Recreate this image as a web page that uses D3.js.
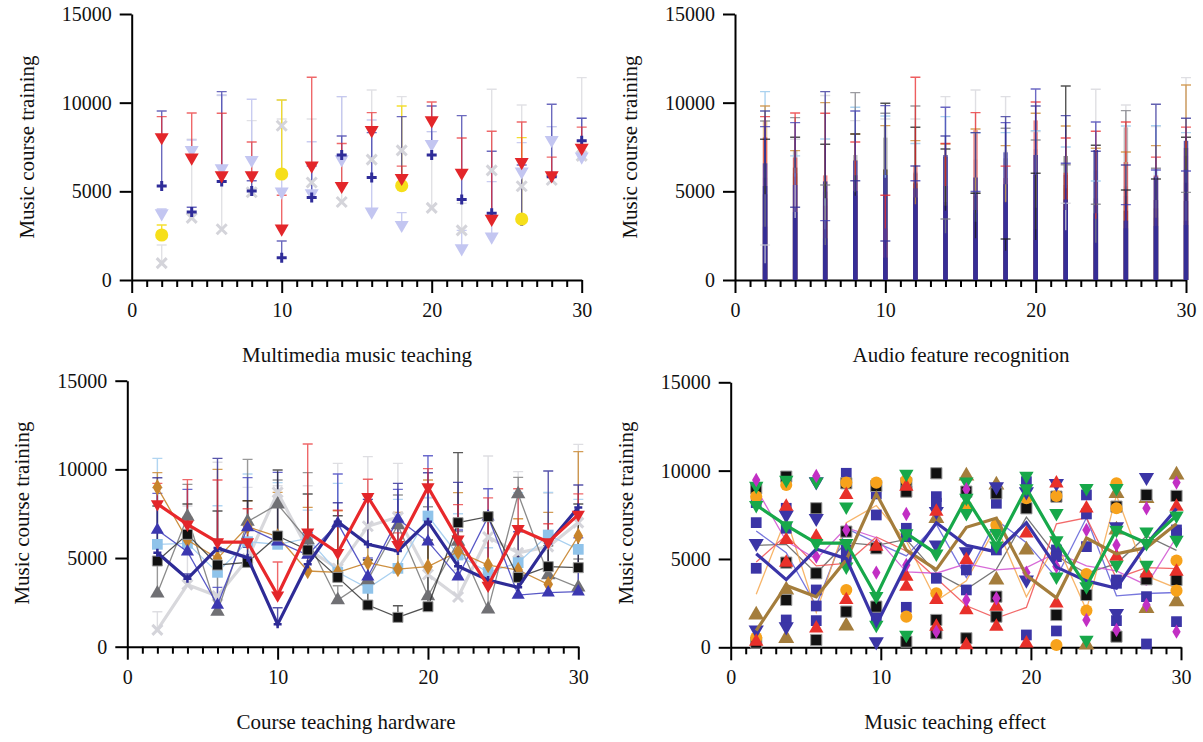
<!DOCTYPE html>
<html><head><meta charset="utf-8">
<script src="https://cdn.jsdelivr.net/npm/d3@7"></script>
<style>
body{margin:0;background:#fff;}
svg{display:block;font-family:"Liberation Serif","Times New Roman",serif;}
</style></head><body>
<svg id="c" width="1203" height="742"></svg>
<script>
// ---------- data ----------
const xVals = [2,4,6,8,10,12,14,16,18,20,22,24,26,28,30];
const p4X = [1.7,3.7,5.7,7.7,9.7,11.7,13.7,15.7,17.7,19.7,21.7,23.7,25.7,27.7,29.7];
const yTicks = [0,5000,10000,15000];
const xTicks = d3.range(0,31);
const xLabels = [0,10,20,30];
const yTitle = "Music course training";
const panelTitles = ["Multimedia music teaching","Audio feature recognition","Course teaching hardware","Music teaching effect"];

const redVals   = [8050,6900,5900,5900,2900,6450,5300,8450,5750,9000,6050,3450,6650,5900,7450];
const redErr    = [9212,9420,9400,7780,4780,11430,7700,9440,6420,10040,8010,8390,8910,6930,8620];
const navyVals  = [5300,3830,5560,5020,1260,4650,7050,5780,5400,7050,4540,3760,3346,5828,7850];
const navyErr   = [9530,4100,10620,5600,2200,6430,8120,8310,9212,9813,9268,7257,6486,9908,9118];
const blueTriVals = [6580,5358,2350,6730,5922,5170,6956,3948,7200,5922,3948,7332,2914,3046,3102];
const blueTriErr  = [8648,8874,3346,9532,9832,5600,9738,5000,8874,10772,6580,8911,4249,6204,6148];
const blackVals = [4832,6336,4606,4756,6242,5452,3910,2350,1654,2256,6994,7332,3910,4512,4456];
const blackErr  = [7934,8046,7652,8234,9964,8610,7388,4888,2312,6016,10942,7600,5076,5696,8046];
const grayTriVals = [3008,7332,1974,7050,8028,6016,2632,3760,6862,2858,5922,2106,8610,4042,3346];
const grayTriErr  = [8968,9156,5358,10566,9400,9814,3440,4900,8554,7896,6500,4268,9550,6300,4944];
const orangeVals = [8986,6016,4982,6768,6204,4268,4192,4738,4380,4512,5358,4606,4324,3516,6242];
const orangeErr  = [9814,7294,10002,8234,8704,7858,7670,8516,7576,9400,8686,7426,7219,7576,10998];
const lightBlueVals = [5772,5828,4192,5922,5772,6110,4200,3290,4418,7370,5170,4192,4738,6298,5490];
const lightBlueErr  = [10622,7000,7952,9738,9250,7700,9212,8300,8310,8422,7500,5584,8686,8704,8310];
const lightGrayVals = [950,3500,2860,4950,8700,5500,4400,6790,7310,4070,2800,6185,5290,5640,7000];
const lightGrayErr  = [1974,7934,10400,8986,9080,9080,10340,10716,10340,8366,4324,10754,9870,8648,11412];
const lavenderVals = [3760,7332,6298,6768,4982,4888,6806,3854,3102,7670,1786,2444,6110,7896,6956];
const lavenderErr  = [4000,7896,10434,10190,10152,7800,10340,9024,3800,8366,2800,5546,7746,8648,9118];
const yellowX    = [2,10,18,26];
const yellowVals = [2538,5978,5320,3440];
const yellowErr  = [3100,10152,9813,8028];

// panel 4 scattered markers
const blackSqA = [9001,9661,7869,9284,9133,9284,9850,8812,8718,7869,8529,2963,7963,8624,8567];
const blackSqB = [264,2680,4189,6548,5604,8812,1547,510,2868,null,1830,null,604,3849,3812];
const blackSqC = [null,4793,415,2019,2302,321,792,null,1736,null,null,null,null,null,null];
const navySqA = [8190,7869,3246,9850,8680,6737,8529,4378,8152,9378,5510,8624,3812,2868,6642];
const navySqB = [7057,6737,2340,5510,7491,6265,8152,3246,5510,698,5133,7548,3623,189,6454];
const navySqC = [4472,1547,1510,4944,1736,2264,3906,null,null,null,925,5699,1510,null,1453];
const navyTriA = [5887,7491,9378,null,321,null,5793,5416,9095,8812,9284,null,6831,9624,null];
const navyTriB = [981,1170,7302,null,null,null,7700,null,null,3812,null,null,1925,null,null];
const greenTriA = [9133,9473,9378,7963,1264,9812,null,9378,6454,9699,7586,9001,9001,4661,6076];
const greenTriB = [null,null,null,4567,null,698,null,7586,null,null,4000,415,4661,6548,null];
const orangeCircA = [8529,9189,null,9322,9322,9473,3057,7963,6925,8435,8567,4151,9284,null,4906];
const orangeCircB = [547,null,null,3246,null,1736,null,null,null,null,132,2076,7869,null,3208];
const redTriA = [321,7963,6265,8624,5699,9095,7680,4944,2302,6454,9284,7869,5133,4189,7963];
const redTriB = [null,6076,1076,2680,null,4000,2680,2113,1170,226,2491,null,null,null,4283];
const redTriC = [null,4793,null,null,null,3434,1170,132,null,null,null,null,null,null,null];
const brownTriA = [1830,3246,null,1208,null,null,7302,9699,9189,5510,null,132,8718,8435,9756];
const brownTriB = [null,510,null,null,null,null,null,null,3812,null,null,null,6642,2208,2585];
const magentaDiaA = [9473,null,9699,6642,4227,7548,887,8944,2774,4227,4567,6642,5793,7869,9322];
const magentaDiaB = [null,null,5133,null,null,4661,null,2680,null,null,null,1547,981,2396,887];

// ---------- layout ----------
const panels = [
  {x0:131.7,x1:581.7,yb:280,yt:14,tx:357,ty:362,ylx:27,yly:147},
  {x0:735,x1:1186,yb:280,yt:14,tx:961,ty:362,ylx:630,yly:147},
  {x0:127.3,x1:578.3,yb:646.7,yt:380.7,tx:346,ty:729,ylx:22,yly:513},
  {x0:730.7,x1:1181,yb:647.3,yt:382.3,tx:955,ty:729,ylx:626,yly:513}
];
const FONT = "Liberation Serif, Times New Roman, serif";
const svg = d3.select("#c");

function setup(p, i){
  const g = svg.append("g");
  const x = d3.scaleLinear([0,30],[p.x0,p.x1]);
  const y = d3.scaleLinear([0,15000],[p.yb,p.yt]);
  const ya = g.append("g").attr("transform",`translate(${p.x0},0)`)
    .call(d3.axisLeft(y).tickValues(yTicks).tickFormat(d3.format("d")).tickSize(12).tickSizeOuter(0).tickPadding(8));
  ya.attr("font-family",FONT).attr("font-size",20);
  ya.select(".domain").attr("stroke-width",2);
  ya.selectAll(".tick line").attr("stroke-width",2);
  ya.selectAll(".tick text").attr("fill","#111");
  const xa = g.append("g").attr("transform",`translate(0,${p.yb})`)
    .call(d3.axisBottom(x).tickValues(xTicks).tickSize(7).tickSizeOuter(0)
      .tickFormat(d => xLabels.includes(d) ? d : ""));
  xa.attr("font-family",FONT).attr("font-size",20);
  xa.select(".domain").attr("stroke-width",2);
  xa.selectAll(".tick line").attr("stroke-width",2).attr("y2", d => xLabels.includes(d) ? 13 : 7);
  xa.selectAll(".tick text").attr("y",37).attr("dy",0).attr("fill","#111");
  g.append("text").attr("x",p.tx).attr("y",p.ty).attr("text-anchor","middle")
    .attr("font-family",FONT).attr("font-size",21).attr("fill","#111").text(panelTitles[i]);
  g.append("text").attr("transform",`translate(${p.ylx},${p.yly}) rotate(-90)`)
    .attr("text-anchor","middle").attr("dy","0.35em")
    .attr("font-family",FONT).attr("font-size",21).attr("fill","#111").text(yTitle);
  const plot = svg.append("g");
  return {x,y,plot};
}

function pts(xs, vals){ return xs.map((xv,k)=>({x:xv,v:vals[k],k})).filter(d=>d.v!=null); }

function errBars(P, xs, vals, errs, color, op, cw){
  const {x,y,plot} = P;
  pts(xs, vals).forEach(d=>{
    const e = errs[d.k];
    plot.append("path")
      .attr("d",`M${x(d.x)},${y(d.v)}V${y(e)}M${x(d.x)-cw},${y(e)}H${x(d.x)+cw}`)
      .attr("stroke",color).attr("stroke-width",1.4).attr("fill","none").attr("opacity",op);
  });
}

function markers(P, xs, vals, type, size, fill, opt={}){
  const {x,y,plot} = P;
  pts(xs, vals).forEach(d=>{
    const cx = x(d.x), cy = y(d.v);
    if(type==="plus" || type==="times"){
      const s = size;
      const path = type==="plus" ? `M${-s},0H${s}M0,${-s}V${s}` : `M${-s},${-s}L${s},${s}M${-s},${s}L${s},${-s}`;
      plot.append("path").attr("d",path).attr("transform",`translate(${cx},${cy})`)
        .attr("stroke",fill).attr("stroke-width",opt.sw||3).attr("fill","none").attr("opacity",opt.op||1);
      return;
    }
    const sym = {tri:d3.symbolTriangle,tridown:d3.symbolTriangle,square:d3.symbolSquare,
                 circle:d3.symbolCircle,diamond:d3.symbolDiamond}[type];
    plot.append("path").attr("d",d3.symbol(sym,size)())
      .attr("transform",`translate(${cx},${cy})${type==="tridown"?" rotate(180)":""}`)
      .attr("fill",fill).attr("opacity",opt.op||1)
      .attr("stroke",opt.stroke||"none").attr("stroke-width",opt.sw||0);
  });
}

function line(P, xs, vals, color, w, op){
  const {x,y,plot} = P;
  plot.append("path").datum(pts(xs,vals))
    .attr("d",d3.line().x(d=>x(d.x)).y(d=>y(d.v)))
    .attr("fill","none").attr("stroke",color).attr("stroke-width",w).attr("opacity",op)
    .attr("stroke-linejoin","miter");
}

// ---------- panel 1 ----------
const P1 = setup(panels[0],0);
errBars(P1, xVals, lightGrayVals, lightGrayErr, "#d9d9de", 0.8, 5);
errBars(P1, xVals, lavenderVals, lavenderErr, "#c3c6f0", 0.9, 5);
errBars(P1, yellowX, yellowVals, yellowErr, "#f3dc1c", 0.9, 5);
errBars(P1, xVals, navyVals, navyErr, "#3b38a8", 0.75, 5);
errBars(P1, xVals, redVals, redErr, "#e8282b", 0.7, 5);
markers(P1, xVals, lightGrayVals, "times", 5, "#d4d4da", {sw:3});
markers(P1, xVals, lavenderVals, "tridown", 85, "#c3c6f1");
markers(P1, xVals, navyVals, "plus", 5, "#2f2c99", {sw:3});
markers(P1, yellowX, yellowVals, "circle", 135, "#f6df1a");
markers(P1, xVals, redVals, "tridown", 85, "#e3262a");

// ---------- panel 2 ----------
const P2 = setup(panels[1],1);
const barSeries = [
  [lightGrayVals, lightGrayErr, "#d4d4da", 0.5],
  [lightBlueVals, lightBlueErr, "#8fc3ea", 0.5],
  [orangeVals, orangeErr, "#c8842c", 0.5],
  [grayTriVals, grayTriErr, "#7a7a80", 0.5],
  [blackVals, blackErr, "#1a1a1a", 0.5],
  [redVals, redErr, "#e8282b", 0.55],
  [blueTriVals, blueTriErr, "#3c38b0", 0.75],
  [navyVals, navyErr, "#2e2b96", 0.8]
];
barSeries.forEach(([v,e,c,o])=>{
  pts(xVals, v).forEach(d=>{
    P2.plot.append("rect").attr("x",P2.x(d.x)-2.25).attr("width",4.5)
      .attr("y",P2.y(d.v)).attr("height",P2.y(0)-P2.y(d.v)).attr("fill",c).attr("opacity",o);
  });
});
barSeries.forEach(([v,e,c,o])=>{ errBars(P2, xVals, v, e, c, 0.75, 5); });

// ---------- panel 3 ----------
const P3 = setup(panels[2],2);
errBars(P3, xVals, lightGrayVals, lightGrayErr, "#d6d6db", 0.8, 5);
errBars(P3, xVals, lightBlueVals, lightBlueErr, "#a9d0f0", 0.9, 5);
errBars(P3, xVals, grayTriVals, grayTriErr, "#6d6d6d", 0.7, 5);
errBars(P3, xVals, orangeVals, orangeErr, "#c8842c", 0.8, 5);
errBars(P3, xVals, blueTriVals, blueTriErr, "#4545c0", 0.8, 5);
errBars(P3, xVals, blackVals, blackErr, "#222", 0.75, 5);
errBars(P3, xVals, navyVals, navyErr, "#2e2b96", 0.8, 5);
errBars(P3, xVals, redVals, redErr, "#e8282b", 0.7, 5);
line(P3, xVals, lightGrayVals, "#d8d8dc", 3.2, 1);
markers(P3, xVals, lightGrayVals, "times", 5, "#d4d4da", {sw:3});
line(P3, xVals, lightBlueVals, "#a9d0f0", 1.3, 1);
markers(P3, xVals, lightBlueVals, "square", 115, "#8fc3ea");
line(P3, xVals, grayTriVals, "#6d6d6d", 1.3, 0.8);
markers(P3, xVals, grayTriVals, "tri", 90, "#707074");
line(P3, xVals, orangeVals, "#c8842c", 1.3, 0.9);
markers(P3, xVals, orangeVals, "diamond", 80, "#c8842c");
line(P3, xVals, blueTriVals, "#4545c0", 1.3, 0.9);
markers(P3, xVals, blueTriVals, "tri", 75, "#3c38b0");
line(P3, xVals, blackVals, "#333", 1.3, 0.85);
markers(P3, xVals, blackVals, "square", 100, "#111", {stroke:"#999", sw:1});
line(P3, xVals, navyVals, "#2e2b96", 3.2, 1);
markers(P3, xVals, navyVals, "plus", 4, "#2e2b96", {sw:2.5});
line(P3, xVals, redVals, "#e8282b", 3.2, 1);
markers(P3, xVals, redVals, "tridown", 75, "#e3262a");

// ---------- panel 4 ----------
const P4 = setup(panels[3],3);
line(P4, p4X, lightBlueVals, "#555", 1.3, 0.8);
line(P4, p4X, blueTriVals, "#5555d5", 1.3, 0.8);
line(P4, p4X, grayTriVals, "#f6a850", 1.3, 0.85);
line(P4, p4X, blackVals, "#f05050", 1.3, 0.85);
line(P4, p4X, orangeVals, "#d050d0", 1.3, 0.85);
[brownTriA, brownTriB].forEach(a=>markers(P4, p4X, a, "tri", 110, "#a47d3c"));
[navySqA, navySqB, navySqC].forEach(a=>markers(P4, p4X, a, "square", 115, "#3b35a6"));
[blackSqA, blackSqB, blackSqC].forEach(a=>markers(P4, p4X, a, "square", 125, "#111", {stroke:"#999", sw:1}));
[orangeCircA, orangeCircB].forEach(a=>markers(P4, p4X, a, "circle", 115, "#f7a21b"));
[navyTriA, navyTriB].forEach(a=>markers(P4, p4X, a, "tridown", 100, "#3b35a6"));
[redTriA, redTriB, redTriC].forEach(a=>markers(P4, p4X, a, "tri", 90, "#e8302a"));
[greenTriA, greenTriB].forEach(a=>markers(P4, p4X, a, "tridown", 90, "#17a84a"));
[magentaDiaA, magentaDiaB].forEach(a=>markers(P4, p4X, a, "diamond", 60, "#c22fc4"));
line(P4, p4X, lightGrayVals, "#a47d3c", 3.2, 1);
line(P4, p4X, navyVals, "#3a34a8", 3.2, 1);
line(P4, p4X, redVals, "#17a84a", 3.2, 1);
markers(P4, p4X, redVals, "tridown", 90, "#17a84a");
</script>
</body></html>
